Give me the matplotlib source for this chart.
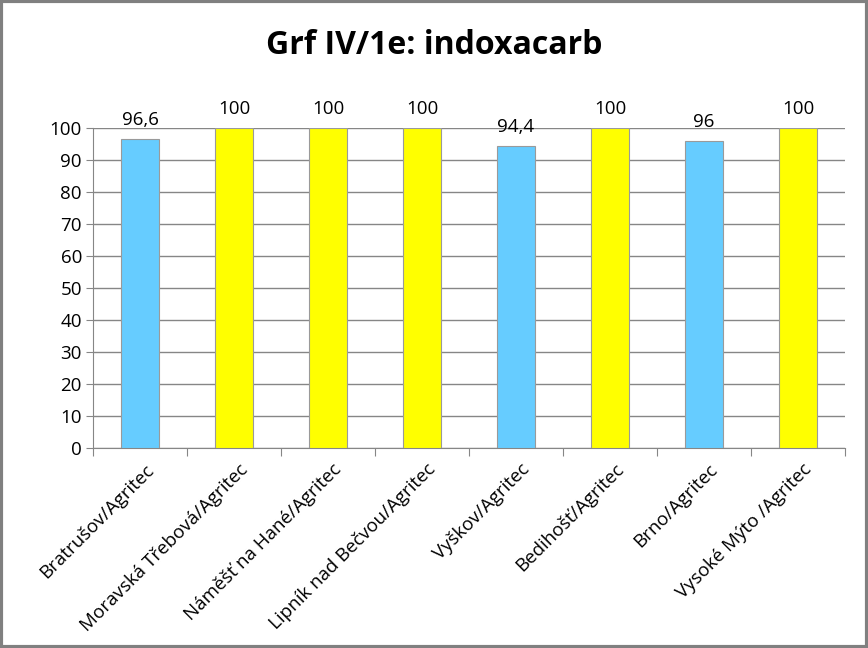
import matplotlib
matplotlib.use("Agg")
import matplotlib.pyplot as plt
from matplotlib.patches import Rectangle
import numpy as np

categories = ["Bratrušov/Agritec", "Moravská Třebová/Agritec", "Náměšť na Hané/Agritec",
              "Lipník nad Bečvou/Agritec", "Vyškov/Agritec", "Bedihošť/Agritec",
              "Brno/Agritec", "Vysoké Mýto /Agritec"]
values = [96.6, 100, 100, 100, 94.4, 100, 96, 100]
labels = ["96,6", "100", "100", "100", "94,4", "100", "96", "100"]
colors = ["#66CCFF", "#FFFF00", "#FFFF00", "#FFFF00", "#66CCFF", "#FFFF00", "#66CCFF", "#FFFF00"]
yticks = [0, 10, 20, 30, 40, 50, 60, 70, 80, 90, 100]
title = "Grf IV/1e: indoxacarb"

plt.rcParams['font.family'] = ['Open Sans', 'DejaVu Sans']

fig = plt.figure(figsize=(8.68, 6.48), dpi=100)
ax = fig.add_axes([93/868, 1-448/648, (845-93)/868, (448-128)/648])

x = np.arange(len(categories))
ax.bar(x, values, width=0.41, color=colors, edgecolor="#9a9a9a", linewidth=0.8, zorder=3)
for xi, v, lab in zip(x, values, labels):
    ax.text(xi, v + 3, lab, ha="center", va="bottom", fontsize=13.5)

ax.set_xlim(-0.5, len(categories) - 0.5)
ax.set_ylim(0, 100)
ax.set_yticks(yticks)
ax.set_yticklabels([str(t) for t in yticks], fontsize=13.5)
ax.yaxis.grid(True, color="#868686", linewidth=1, zorder=0)
ax.tick_params(axis="y", length=5, color="#868686", pad=3)

ax.set_xticks(np.arange(-0.5, len(categories) + 0.5, 1))
ax.set_xticklabels([])
ax.tick_params(axis="x", length=6, color="#868686")
for xi, c in zip(x, categories):
    ax.annotate(c, xy=(xi + 0.05, 0), xycoords=("data", "axes fraction"),
                xytext=(0, -9), textcoords="offset points",
                rotation=45, ha="right", va="top", rotation_mode="anchor", fontsize=13.5)

for s in ["top", "right"]:
    ax.spines[s].set_visible(False)
for s in ["left", "bottom"]:
    ax.spines[s].set_color("#868686")

fig.text(0.5, 1 - 45/648, title, ha="center", va="center", fontsize=23, fontweight="bold")
fig.patches.append(Rectangle((0.0015, 0.002), 0.997, 0.996, transform=fig.transFigure,
                             fill=False, edgecolor="#808080", linewidth=3))

fig.savefig("out.png", dpi=100)
